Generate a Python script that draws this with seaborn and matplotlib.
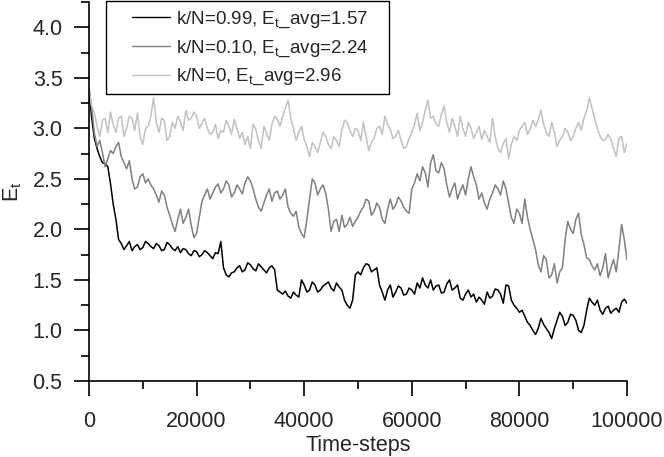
import numpy as np
import pandas as pd
import matplotlib
matplotlib.use("Agg")
import matplotlib.pyplot as plt
import seaborn as sns
from matplotlib.ticker import MultipleLocator
from matplotlib.patches import Rectangle

# ---- data ----
# values at whole thousands of time-steps (0, 1000, ..., 100000)
steps_main = list(range(0, 100001, 1000))
# values read in between (500, 1500, ..., 99500)
steps_mid = list(range(500, 100000, 1000))

e_k099_main = [3.40, 2.90, 2.72, 2.65, 2.45, 2.10, 1.86, 1.84, 1.79, 1.85,
               1.82, 1.86, 1.81, 1.84, 1.80, 1.85, 1.79, 1.77, 1.80, 1.74,
               1.78, 1.75, 1.77, 1.71, 1.76, 1.62, 1.53, 1.58, 1.64, 1.60,
               1.65, 1.59, 1.63, 1.57, 1.64, 1.40, 1.36, 1.34, 1.38, 1.33,
               1.45, 1.40, 1.45, 1.40, 1.46, 1.42, 1.47, 1.40, 1.25, 1.30,
               1.58, 1.62, 1.65, 1.60, 1.45, 1.30, 1.45, 1.38, 1.42, 1.36,
               1.40, 1.47, 1.52, 1.42, 1.40, 1.45, 1.38, 1.50, 1.42, 1.32,
               1.36, 1.33, 1.28, 1.30, 1.38, 1.34, 1.40, 1.27, 1.44, 1.25,
               1.18, 1.14, 1.05, 0.96, 1.12, 1.02, 0.92, 1.10, 1.14, 1.08,
               1.15, 1.00, 1.05, 1.32, 1.25, 1.20, 1.22, 1.17, 1.22, 1.28,
               1.27]
e_k099_mid = [3.10, 2.80, 2.66, 2.62, 2.25, 1.90, 1.80, 1.88, 1.83, 1.80,
              1.88, 1.83, 1.86, 1.79, 1.87, 1.81, 1.83, 1.81, 1.76, 1.79,
              1.73, 1.79, 1.74, 1.77, 1.88, 1.55, 1.57, 1.62, 1.58, 1.67,
              1.61, 1.66, 1.60, 1.62, 1.60, 1.38, 1.39, 1.32, 1.35, 1.50,
              1.38, 1.48, 1.38, 1.44, 1.48, 1.39, 1.43, 1.30, 1.22, 1.55,
              1.55, 1.66, 1.58, 1.62, 1.38, 1.40, 1.33, 1.44, 1.35, 1.42,
              1.36, 1.42, 1.45, 1.50, 1.44, 1.37, 1.46, 1.40, 1.45, 1.30,
              1.40, 1.36, 1.33, 1.26, 1.32, 1.41, 1.36, 1.45, 1.30, 1.22,
              1.20, 1.08, 1.00, 1.02, 1.06, 0.98, 1.02, 1.18, 1.05, 1.16,
              1.10, 0.98, 1.20, 1.28, 1.30, 1.16, 1.24, 1.20, 1.18, 1.31]

e_k010_main = [3.40, 2.95, 2.88, 2.62, 2.78, 2.82, 2.72, 2.60, 2.50, 2.42,
               2.55, 2.50, 2.40, 2.27, 2.34, 2.14, 1.98, 2.20, 2.12, 2.04,
               1.96, 2.28, 2.40, 2.36, 2.45, 2.40, 2.44, 2.36, 2.40, 2.46,
               2.48, 2.30, 2.18, 2.34, 2.28, 2.38, 2.34, 2.22, 2.13, 2.02,
               1.92, 2.30, 2.46, 2.40, 2.36, 1.98, 2.10, 2.14, 2.05, 2.03,
               2.12, 2.22, 2.28, 2.18, 2.22, 2.06, 2.30, 2.24, 2.28, 2.18,
               2.40, 2.55, 2.62, 2.42, 2.74, 2.56, 2.60, 2.32, 2.46, 2.38,
               2.34, 2.62, 2.44, 2.36, 2.20, 2.36, 2.40, 2.48, 2.26, 2.06,
               2.16, 2.30, 2.00, 1.80, 1.58, 1.70, 1.55, 1.47, 1.62, 2.08,
               1.96, 2.16, 1.85, 1.70, 1.60, 1.54, 1.76, 1.62, 1.58, 2.05,
               1.70]
e_k010_mid = [3.20, 2.82, 2.76, 2.70, 2.75, 2.86, 2.66, 2.68, 2.40, 2.52,
              2.46, 2.44, 2.34, 2.38, 2.22, 2.05, 2.10, 2.06, 2.20, 1.92,
              2.12, 2.34, 2.30, 2.42, 2.36, 2.48, 2.32, 2.44, 2.35, 2.52,
              2.40, 2.22, 2.26, 2.40, 2.36, 2.30, 2.40, 2.16, 2.18, 1.96,
              2.10, 2.50, 2.34, 2.44, 2.20, 2.08, 1.98, 2.02, 2.12, 2.08,
              2.18, 2.30, 2.14, 2.26, 2.10, 2.20, 2.20, 2.32, 2.22, 2.16,
              2.46, 2.48, 2.56, 2.66, 2.58, 2.66, 2.44, 2.40, 2.30, 2.44,
              2.50, 2.52, 2.30, 2.26, 2.30, 2.44, 2.34, 2.40, 2.12, 2.20,
              2.06, 2.12, 1.90, 1.65, 1.74, 1.52, 1.66, 1.58, 1.90, 2.00,
              2.10, 1.95, 1.72, 1.64, 1.66, 1.62, 1.52, 1.70, 1.80, 1.90]

e_k0_main = [3.40, 3.15, 2.92, 3.10, 3.16, 2.96, 3.12, 3.00, 3.10, 3.15,
             2.84, 3.02, 3.30, 2.96, 3.08, 2.92, 3.00, 3.06, 3.18, 3.10,
             3.12, 3.05, 3.00, 2.96, 2.90, 2.96, 3.02, 3.09, 2.90, 2.84,
             2.80, 2.99, 2.80, 2.95, 3.04, 3.09, 3.12, 3.28, 3.00, 2.96,
             2.89, 2.72, 2.82, 2.86, 2.92, 2.80, 2.88, 2.98, 3.06, 2.92,
             2.98, 3.06, 2.78, 2.90, 3.02, 3.12, 2.99, 2.92, 2.88, 2.82,
             2.96, 3.15, 3.06, 3.28, 3.12, 3.02, 3.22, 2.96, 3.02, 3.12,
             2.92, 3.00, 2.96, 2.89, 2.92, 3.10, 2.80, 2.85, 2.70, 2.92,
             2.98, 3.06, 2.99, 3.02, 3.18, 2.96, 3.06, 2.82, 2.92, 2.96,
             2.92, 3.06, 3.10, 3.30, 3.09, 2.92, 2.89, 2.89, 2.72, 2.92,
             2.85]
e_k0_mid = [3.22, 3.02, 3.08, 2.96, 3.04, 3.10, 2.92, 3.12, 2.98, 2.92,
            3.00, 3.12, 3.06, 3.10, 2.88, 3.06, 3.12, 2.98, 3.08, 3.16,
            3.00, 3.10, 2.94, 3.04, 2.98, 3.08, 2.94, 3.00, 2.96, 2.92,
            3.04, 2.88, 3.02, 2.88, 3.12, 3.02, 3.20, 3.10, 2.88, 3.02,
            2.82, 2.86, 2.76, 2.96, 2.84, 2.92, 2.82, 3.08, 2.98, 3.00,
            2.88, 2.92, 2.86, 3.00, 2.94, 3.04, 2.90, 2.98, 2.80, 2.90,
            3.04, 2.98, 3.18, 3.10, 3.04, 3.14, 3.06, 3.10, 2.92, 3.00,
            3.06, 2.90, 3.02, 2.98, 2.86, 2.92, 2.76, 2.90, 2.84, 2.88,
            3.02, 2.94, 3.08, 3.08, 3.04, 2.92, 2.96, 2.88, 3.00, 2.88,
            3.00, 2.98, 3.18, 3.20, 3.00, 2.88, 2.94, 2.80, 2.90, 2.76]

labels = [r"k/N=0.99, $\mathregular{E_t}$_avg=1.57",
          r"k/N=0.10, $\mathregular{E_t}$_avg=2.24",
          r"k/N=0, $\mathregular{E_t}$_avg=2.96"]
colors = ["#000000", "#808080", "#c2c2c2"]

x_ticks = [0, 20000, 40000, 60000, 80000, 100000]
y_ticks = [0.5, 1.0, 1.5, 2.0, 2.5, 3.0, 3.5, 4.0]

# ---- style ----
sns.set_style("ticks")
plt.rcParams["font.family"] = ["Liberation Sans", "DejaVu Sans"]
plt.rcParams["mathtext.fontset"] = "custom"
plt.rcParams["mathtext.rm"] = "Liberation Sans"
plt.rcParams["mathtext.it"] = "Liberation Sans"

frames = []
for main, mid, lab in zip([e_k099_main, e_k010_main, e_k0_main],
                          [e_k099_mid, e_k010_mid, e_k0_mid], labels):
    d = pd.DataFrame({"step": steps_main + steps_mid, "E": main + mid})
    d = d.sort_values("step")
    d["series"] = lab
    frames.append(d)
df = pd.concat(frames, ignore_index=True)

fig = plt.figure(figsize=(6.64, 4.57), dpi=100)
ax = fig.add_axes([89 / 664, 1 - 381 / 457, (627 - 89) / 664, (381 - 2) / 457])

sns.lineplot(data=df, x="step", y="E", hue="series", hue_order=labels,
             palette=colors, linewidth=1.1, ax=ax, legend=True,
             estimator=None, sort=True)

ax.set_xlim(0, 100000)
ax.set_ylim(0.5, 4.25)
ax.set_xticks(x_ticks)
ax.set_xticklabels([str(t) for t in x_ticks])
ax.set_yticks(y_ticks)
ax.set_yticklabels([f"{t:.1f}" for t in y_ticks])
ax.xaxis.set_minor_locator(MultipleLocator(10000))
ax.yaxis.set_minor_locator(MultipleLocator(0.25))

sns.despine(ax=ax)
for s in ["left", "bottom"]:
    ax.spines[s].set_linewidth(1.2)
    ax.spines[s].set_color("black")

ax.tick_params(axis="both", which="major", direction="out", length=11,
               width=1.2, labelsize=15.5, color="black")
ax.tick_params(axis="both", which="minor", direction="out", length=6,
               width=1.2, color="black")
ax.tick_params(axis="x", which="major", pad=10.5)
ax.tick_params(axis="y", which="major", pad=8)

ax.set_xlabel("Time-steps", fontsize=15.5, labelpad=2.5)
ax.set_ylabel(r"$\mathregular{E_t}$", fontsize=15.5, labelpad=6)

# legend contents (frame drawn separately to match the wider box)
fs_leg = 13.5
pad_px = 0.45 * fs_leg * 100 / 72
leg_left_px = 132 - pad_px
leg = ax.legend(loc="upper left",
                bbox_to_anchor=(leg_left_px / 664, 1 - 1 / 457),
                bbox_transform=fig.transFigure,
                borderaxespad=0, fontsize=fs_leg, frameon=False,
                handlelength=2.0, handletextpad=0.35,
                labelspacing=0.45, borderpad=0.45)
for line in leg.get_lines():
    line.set_linewidth(1.0)

frame = Rectangle((106 / 664, 1 - 94 / 457), 283 / 664, 93 / 457,
                  transform=fig.transFigure, fill=True, facecolor="white",
                  edgecolor="black", linewidth=1.0, zorder=4)
fig.add_artist(frame)
leg.set_zorder(5)
fig.add_artist(leg)

fig.savefig("out.png", dpi=100)
